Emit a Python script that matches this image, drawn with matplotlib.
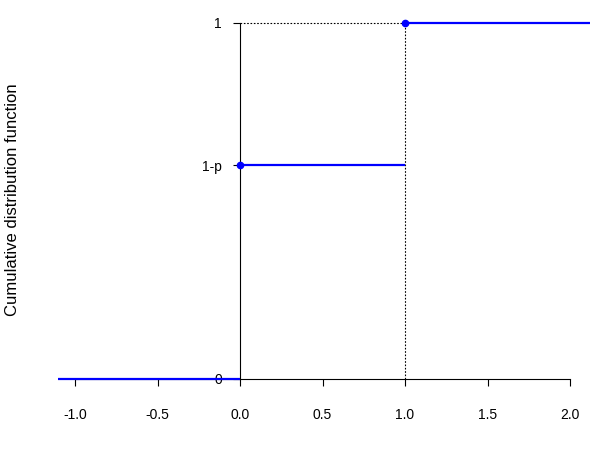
import matplotlib
matplotlib.use("Agg")
import matplotlib.pyplot as plt

# Bernoulli CDF, p = 0.4
p = 0.4
seg_start = [-1.1, 0.0, 1.0]
seg_end = [0.0, 1.0, 2.12]
seg_level = [0.0, 1 - p, 1.0]
jump_x = [0.0, 1.0]
jump_y = [1 - p, 1.0]
xticks = [-1.0, -0.5, 0.0, 0.5, 1.0, 1.5, 2.0]
xtick_labels = ["-1.0", "-0.5", "0.0", "0.5", "1.0", "1.5", "2.0"]
yticks = [0.0, 1 - p, 1.0]
ytick_labels = ["0", "1-p", "1"]

plt.rcParams['font.family'] = ['Liberation Sans', 'DejaVu Sans']

fig = plt.figure(figsize=(6, 4.5), dpi=100)
ax = fig.add_axes([0, 0, 1, 1])
ax.set_xlim(-240 / 165, 360 / 165)
ax.set_ylim(-71 / 356, 379 / 356)

# dotted guides
ax.vlines(jump_x[1], 0, jump_y[1], colors='black', linestyles=(0, (1.5, 1.5)), lw=0.8, zorder=1)
ax.hlines(jump_y[1], jump_x[0], jump_x[1], colors='black', linestyles=(0, (1.5, 1.5)), lw=0.8, zorder=1)

# steps
ax.hlines(seg_level, seg_start, seg_end, colors='#0000FF', lw=1.6, zorder=3)
ax.plot(jump_x, jump_y, 'o', color='#0000FF', ms=4.5, zorder=4)

for s in ['top', 'right']:
    ax.spines[s].set_visible(False)
ax.spines['left'].set_position(('data', 0))
ax.spines['bottom'].set_position(('data', 0))
ax.spines['left'].set_bounds(0, 1)
ax.spines['bottom'].set_bounds(-1, 2)
ax.patch.set_visible(False)

ax.set_xticks(xticks)
ax.set_xticklabels(xtick_labels)
ax.set_yticks(yticks)
ax.set_yticklabels(ytick_labels)
ax.tick_params(axis='x', length=5, width=0.8, pad=16, labelsize=10)
ax.tick_params(axis='y', length=5, width=0.8, pad=8, labelsize=10)

fig.text(13 / 600, 1 - 200 / 450, 'Cumulative distribution function',
         rotation=90, ha='center', va='center', fontsize=12)

fig.savefig('out.png', dpi=100)
